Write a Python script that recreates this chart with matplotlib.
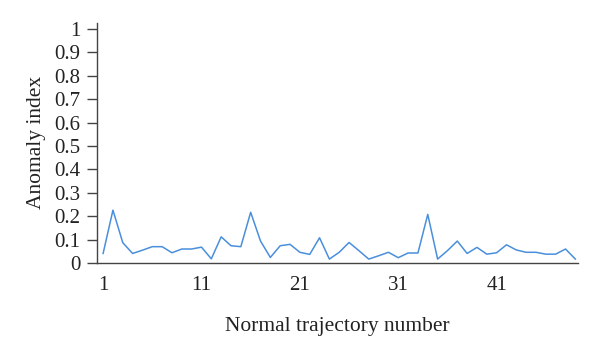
import matplotlib
matplotlib.use("Agg")
import matplotlib.pyplot as plt

trajectory = list(range(1, 50))
anomaly = [
    0.041, 0.226, 0.087, 0.041, 0.055, 0.070, 0.070, 0.044, 0.060, 0.060,
    0.068, 0.018, 0.112, 0.074, 0.070, 0.217, 0.094, 0.024, 0.074, 0.080,
    0.046, 0.037, 0.108, 0.017, 0.046, 0.088, 0.053, 0.017, 0.031, 0.046,
    0.023, 0.043, 0.043, 0.208, 0.017, 0.053, 0.094, 0.041, 0.067, 0.038,
    0.044, 0.078, 0.056, 0.046, 0.046, 0.038, 0.038, 0.060, 0.017,
]
x_ticks = [1, 11, 21, 31, 41]
y_ticks = [0, 0.1, 0.2, 0.3, 0.4, 0.5, 0.6, 0.7, 0.8, 0.9, 1]

plt.rcParams["font.family"] = ["Liberation Serif", "DejaVu Serif"]

fig = plt.figure(figsize=(6, 3.55), dpi=100)
ax = fig.add_axes([0.162, 0.259, 0.801, 0.677])

ax.plot(trajectory, anomaly, color="#4a8fdc", linewidth=1.1)

ax.set_xlim(0.4, 49.25)
ax.set_ylim(0, 1.027)
ax.set_xticks(x_ticks)
ax.set_yticks(y_ticks)
ax.set_yticklabels([f"{v:g}" for v in y_ticks])

for side in ["top", "right"]:
    ax.spines[side].set_visible(False)
for side in ["left", "bottom"]:
    ax.spines[side].set_color("#444444")
    ax.spines[side].set_linewidth(1.0)

ax.tick_params(axis="x", length=0, pad=9, labelsize=15, colors="#222222")
ax.tick_params(axis="y", length=7, width=1.0, color="#444444", pad=5,
               labelsize=15, labelcolor="#222222")

ax.set_xlabel("Normal trajectory number", fontsize=15.5, color="#222222", labelpad=16)
ax.set_ylabel("Anomaly index", fontsize=15.5, color="#222222", labelpad=6)

fig.savefig("out.png", dpi=100)
